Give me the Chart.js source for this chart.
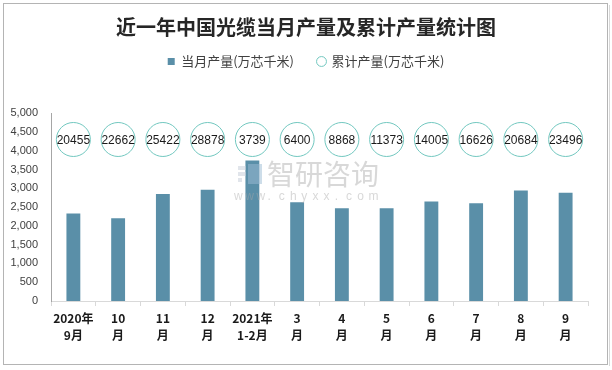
<!DOCTYPE html>
<html>
<head>
<meta charset="utf-8">
<script src="https://cdn.jsdelivr.net/npm/chart.js@4/dist/chart.umd.min.js"></script>
<style>
html,body{margin:0;padding:0;background:#fff;}
#wrap{position:relative;width:612px;height:370px;}
</style>
</head>
<body>
<div id="wrap"><canvas id="c" width="612" height="370"></canvas></div>
<script>
const categories = [['2020年','9月'],['10','月'],['11','月'],['12','月'],['2021年','1-2月'],['3','月'],['4','月'],['5','月'],['6','月'],['7','月'],['8','月'],['9','月']];
const monthlyOutput = [2330, 2200, 2850, 2960, 3739, 2630, 2468, 2468, 2650, 2600, 2940, 2880];
const cumulativeOutput = [20455, 22662, 25422, 28878, 3739, 6400, 8868, 11373, 14005, 16626, 20684, 23496];
const yMin = 0, yMax = 5000, yStep = 500;
const MARKER_LEVEL = 4300;
const seriesNames = ['当月产量(万芯千米)', '累计产量(万芯千米)'];

const cjk = "'Noto Sans CJK SC', 'Liberation Sans', sans-serif";

const frame = {
  id: 'frame',
  beforeDraw(chart) {
    const ctx = chart.ctx;
    ctx.save();
    ctx.fillStyle = '#fff';
    ctx.fillRect(0, 0, chart.width, chart.height);
    ctx.strokeStyle = '#b4b4b4';
    ctx.lineWidth = 1;
    ctx.strokeRect(3.5, 3.5, 604, 361);
    ctx.strokeStyle = '#d8d8d8';
    ctx.beginPath(); ctx.moveTo(609.5, 5); ctx.lineTo(609.5, 366); ctx.stroke();
    ctx.restore();
  }
};

const watermark = {
  id: 'watermark',
  afterDatasetsDraw(chart) {
    const ctx = chart.ctx;
    ctx.save();
    ctx.globalAlpha = 0.5;
    ctx.fillStyle = '#c4ccd8';
    ctx.fillRect(238, 166, 8, 4);
    ctx.fillRect(238, 172, 8, 4);
    ctx.fillRect(238, 178, 4, 4);
    ctx.fillStyle = '#9bbbd3';
    ctx.fillRect(248, 164, 14, 20);
    ctx.globalAlpha = 0.45;
    ctx.fillStyle = '#a8a8a8';
    ctx.font = "28px " + cjk;
    ctx.textBaseline = 'middle';
    ctx.textAlign = 'left';
    ctx.fillText('智研咨询', 267, 174);
    ctx.font = "12px 'Liberation Sans', sans-serif";
    const s = 'www.chyxx.com';
    let x = 234;
    for (const ch of s) { ctx.fillText(ch, x, 197); x += 11.2; }
    ctx.restore();
  }
};

const bubbleLabels = {
  id: 'bubbleLabels',
  afterDatasetsDraw(chart) {
    const meta = chart.getDatasetMeta(1);
    const ctx = chart.ctx;
    ctx.save();
    ctx.fillStyle = '#1a1a1a';
    ctx.font = "12px 'Liberation Sans', sans-serif";
    ctx.textAlign = 'center';
    ctx.textBaseline = 'middle';
    meta.data.forEach((pt, i) => {
      ctx.fillText(String(cumulativeOutput[i]), pt.x, pt.y + 1);
    });
    ctx.restore();
  }
};

new Chart(document.getElementById('c'), {
  data: {
    labels: categories,
    datasets: [
      {
        type: 'bar',
        label: seriesNames[0],
        data: monthlyOutput,
        backgroundColor: '#5a8fa8',
        borderWidth: 0,
        pointStyle: 'rect',
        categoryPercentage: 1,
        barPercentage: 0.31,
        order: 2
      },
      {
        type: 'line',
        label: seriesNames[1],
        data: cumulativeOutput.map(() => MARKER_LEVEL),
        showLine: false,
        pointStyle: 'circle',
        pointRadius: 17,
        pointHoverRadius: 17,
        pointBorderWidth: 1,
        pointBorderColor: '#72c8c0',
        pointBackgroundColor: 'rgba(255,255,255,0)',
        borderColor: '#72c8c0',
        backgroundColor: '#ffffff',
        order: 1
      }
    ]
  },
  options: {
    responsive: false,
    animation: false,
    devicePixelRatio: 1,
    layout: { padding: { left: 0, right: 0, top: 0, bottom: 9 } },
    plugins: {
      title: {
        display: true,
        text: '近一年中国光缆当月产量及累计产量统计图',
        color: '#262626',
        font: { family: cjk, size: 20, weight: 'bold' },
        padding: { top: 15, bottom: -8 }
      },
      subtitle: {
        display: true,
        text: ' ',
        weight: 500,
        font: { size: 1 },
        padding: { top: 0, bottom: 34 }
      },
      legend: {
        display: true,
        labels: {
          usePointStyle: true,
          boxWidth: 7,
          boxHeight: 7,
          padding: 24,
          color: '#404040',
          font: { family: cjk, size: 13 },
          sort: (a, b) => a.datasetIndex - b.datasetIndex
        }
      },
      tooltip: { enabled: false }
    },
    scales: {
      x: {
        offset: true,
        grid: { display: true, offset: true, drawOnChartArea: false, drawTicks: true, tickLength: 5, color: '#d9d9d9' },
        border: { display: true, color: '#d9d9d9' },
        ticks: {
          color: '#1a1a1a',
          font: { family: cjk, size: 12, weight: 'bold', lineHeight: 1.4 },
          padding: 4,
          maxRotation: 0,
          autoSkip: false
        },
        afterFit(scale) { scale.height = 60; }
      },
      y: {
        min: yMin,
        max: yMax,
        grid: { display: false, drawTicks: false },
        border: { display: true, color: '#a6a6a6' },
        ticks: {
          stepSize: yStep,
          color: '#404040',
          padding: 13,
          font: { family: "'Liberation Sans', sans-serif", size: 11 },
          callback: v => Number(v).toLocaleString('en-US')
        },
        afterFit(scale) { scale.width = 51; }
      },
      ySpacer: {
        position: 'right',
        min: yMin,
        max: yMax,
        display: true,
        grid: { display: false, drawTicks: false },
        border: { display: false },
        ticks: { display: false },
        afterFit(scale) { scale.width = 24; }
      }
    }
  },
  plugins: [frame, bubbleLabels, watermark]
});
</script>
</body>
</html>
